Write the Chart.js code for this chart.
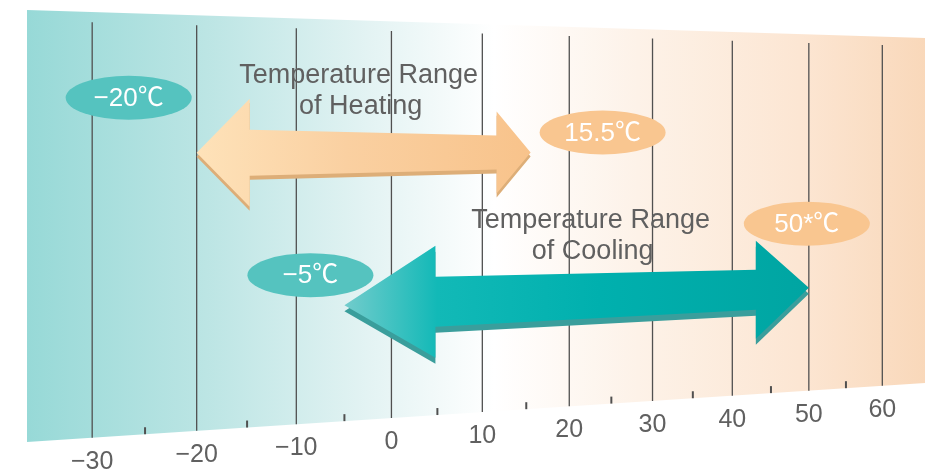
<!DOCTYPE html>
<html>
<head>
<meta charset="utf-8">
<title>Temperature ranges</title>
<script src="https://cdn.jsdelivr.net/npm/chart.js@4.4.1/dist/chart.umd.min.js"></script>
<style>
  html, body { margin: 0; padding: 0; background: #fff; }
  #rangeChart { display: block; }
</style>
</head>
<body>
<canvas id="rangeChart" width="925" height="473"></canvas>
<script>
// axis ticks (°C)
const majorTicks = [-30, -20, -10, 0, 10, 20, 30, 40, 50, 60];
const minorTicks = [-25, -15, -5, 5, 15, 25, 35, 45, 55];

// operating ranges
const rangeNames = ['Heating', 'Cooling'];
const rangeLow = [-20, -5];
const rangeHigh = [15.5, 50];
const highNote = ['', '*'];

// the board is a tilted plane: screen corners of the chart area
const PLANE = { tl: [27, 10], tr: [925, 38], br: [925, 383], bl: [27, 442] };

const FONT = '"Liberation Sans", Arial, "Noto Sans CJK SC", sans-serif';
const TEXT_GREY = '#606060';
const BADGE_LOW = '#55C3BF';
const BADGE_HIGH = '#F9C690';

const arrowStyles = [
  {
    stops: [[0, '#FEE2B9'], [0.45, '#FAD0A1'], [1, '#F8C38B']],
    shade: '#DDAE78', drop: 4,
    left: { len: 53, head: 54, shaft: 23 },
    right: { len: 34, head: 41, shaft: 17 },
    lowBadge: [-68, -55], highBadge: [72, -20],
    title: [-5, -70]
  },
  {
    stops: [[0, '#72CCCC'], [0.2, '#12B9B7'], [0.55, '#00B0AE'], [1, '#00A5A2']],
    shade: '#3A9E9C', drop: 6,
    left: { len: 91, head: 56, shaft: 25 },
    right: { len: 53, head: 49, shaft: 20 },
    lowBadge: [-34, -30], highBadge: [-2, -64],
    title: [14, -68]
  }
];

function fmtTemp(v, note) {
  return (v < 0 ? '\u2212' : '') + Math.abs(v) + (note || '') + '\u2103';
}

// projective map from the unit square onto the tilted board
function planeMap() {
  const [x0, y0] = PLANE.tl, [x1, y1] = PLANE.tr, [x2, y2] = PLANE.br, [x3, y3] = PLANE.bl;
  const dx1 = x1 - x2, dx2 = x3 - x2, dx3 = x0 - x1 + x2 - x3;
  const dy1 = y1 - y2, dy2 = y3 - y2, dy3 = y0 - y1 + y2 - y3;
  const den = dx1 * dy2 - dy1 * dx2;
  const g = (dx3 * dy2 - dy3 * dx2) / den;
  const h = (dx1 * dy3 - dy1 * dx3) / den;
  const a = x1 - x0 + g * x1, b = x3 - x0 + h * x3, c = x0;
  const d = y1 - y0 + g * y1, e = y3 - y0 + h * y3, f = y0;
  return (u, v) => {
    const w = g * u + h * v + 1;
    return [(a * u + b * v + c) / w, (d * u + e * v + f) / w];
  };
}
const toBoard = planeMap();

function project(chart, px, py) {
  const ca = chart.chartArea;
  return toBoard((px - ca.left) / (ca.right - ca.left), (py - ca.top) / (ca.bottom - ca.top));
}

function uOf(chart, value) {
  const ca = chart.chartArea;
  return (chart.scales.x.getPixelForValue(value) - ca.left) / (ca.right - ca.left);
}

// background, grid lines and the slanted axis
const perspectiveBoard = {
  id: 'perspectiveBoard',
  beforeDatasetsDraw(chart) {
    const ctx = chart.ctx;
    ctx.save();

    const corners = [toBoard(0, 0), toBoard(1, 0), toBoard(1, 1), toBoard(0, 1)];
    const bg = ctx.createLinearGradient(corners[0][0], 0, corners[1][0], 0);
    bg.addColorStop(0, '#97D9D7');
    bg.addColorStop(0.2, '#BCE5E4');
    bg.addColorStop(0.38, '#E3F3F3');
    bg.addColorStop(0.52, '#FFFFFF');
    bg.addColorStop(0.68, '#FDF2E8');
    bg.addColorStop(0.86, '#FCE6D3');
    bg.addColorStop(1, '#F9D8BA');
    ctx.beginPath();
    corners.forEach(([x, y], i) => (i ? ctx.lineTo(x, y) : ctx.moveTo(x, y)));
    ctx.closePath();
    ctx.fillStyle = bg;
    ctx.fill();

    // major grid lines
    ctx.strokeStyle = '#505050';
    ctx.lineWidth = 1.3;
    chart.scales.x.ticks.forEach(t => {
      const u = uOf(chart, t.value);
      const [xt, yt] = toBoard(u, 0.024);
      const [xb, yb] = toBoard(u, 1);
      ctx.beginPath();
      ctx.moveTo(xt, yt);
      ctx.lineTo(xb, yb);
      ctx.stroke();
    });

    // minor ticks on the lower edge
    ctx.lineWidth = 2;
    minorTicks.forEach(v => {
      const [xb, yb] = toBoard(uOf(chart, v), 1);
      ctx.beginPath();
      ctx.moveTo(xb, yb);
      ctx.lineTo(xb, yb - 7);
      ctx.stroke();
    });

    // tick labels follow the slanted edge
    ctx.fillStyle = TEXT_GREY;
    ctx.font = '25px ' + FONT;
    ctx.textAlign = 'center';
    ctx.textBaseline = 'middle';
    chart.scales.x.ticks.forEach(t => {
      const [xb, yb] = toBoard(uOf(chart, t.value), 1);
      const label = t.value < 0 ? '\u2212' + Math.abs(t.value) : String(t.value);
      ctx.fillText(label, xb, yb + 24);
    });
    ctx.restore();
  }
};

function drawArrow(ctx, L, R, s) {
  const [lx, ly] = L, [rx, ry] = R;
  const cy = x => ly + (ry - ly) * (x - lx) / (rx - lx);
  const xb1 = lx + s.left.len, xb2 = rx - s.right.len;
  const pts = [
    [lx, ly],
    [xb1, cy(xb1) - s.left.head],
    [xb1, cy(xb1) - s.left.shaft],
    [xb2, cy(xb2) - s.right.shaft],
    [xb2, cy(xb2) - s.right.head],
    [rx, ry],
    [xb2, cy(xb2) + s.right.head],
    [xb2, cy(xb2) + s.right.shaft],
    [xb1, cy(xb1) + s.left.shaft],
    [xb1, cy(xb1) + s.left.head]
  ];
  const trace = dy => {
    ctx.beginPath();
    pts.forEach(([x, y], i) => (i ? ctx.lineTo(x, y + dy) : ctx.moveTo(x, y + dy)));
    ctx.closePath();
  };
  // extruded edge underneath
  trace(s.drop);
  ctx.fillStyle = s.shade;
  ctx.fill();
  // top face
  const grad = ctx.createLinearGradient(lx, 0, rx, 0);
  s.stops.forEach(([o, c]) => grad.addColorStop(o, c));
  trace(0);
  ctx.fillStyle = grad;
  ctx.fill();
}

function drawBadge(ctx, x, y, color, text) {
  ctx.beginPath();
  ctx.ellipse(x, y, 63, 22, 0, 0, Math.PI * 2);
  ctx.fillStyle = color;
  ctx.fill();
  ctx.fillStyle = '#FFFFFF';
  ctx.font = '26px ' + FONT;
  ctx.textAlign = 'center';
  ctx.textBaseline = 'middle';
  ctx.fillText(text, x, y + 1);
}

// range arrows, end badges and captions
const rangeArrows = {
  id: 'rangeArrows',
  afterDatasetsDraw(chart) {
    const ctx = chart.ctx;
    ctx.save();
    chart.data.datasets.forEach((ds, i) => {
      const meta = chart.getDatasetMeta(i);
      const s = arrowStyles[i];
      const p0 = meta.data[0], p1 = meta.data[1];
      const L = project(chart, p0.x, p0.y);
      const R = project(chart, p1.x, p1.y);
      drawArrow(ctx, L, R, s);

      drawBadge(ctx, L[0] + s.lowBadge[0], L[1] + s.lowBadge[1], BADGE_LOW, fmtTemp(rangeLow[i]));
      drawBadge(ctx, R[0] + s.highBadge[0], R[1] + s.highBadge[1], BADGE_HIGH, fmtTemp(rangeHigh[i], highNote[i]));

      const mx = (L[0] + R[0]) / 2 + s.title[0];
      const my = (L[1] + R[1]) / 2 + s.title[1];
      ctx.fillStyle = TEXT_GREY;
      ctx.font = '27px ' + FONT;
      ctx.textAlign = 'center';
      ctx.textBaseline = 'alphabetic';
      ctx.fillText('Temperature Range', mx, my);
      ctx.fillText('of ' + ds.label, mx + 2, my + 31);
    });
    ctx.restore();
  }
};

new Chart(document.getElementById('rangeChart'), {
  type: 'scatter',
  data: {
    datasets: rangeNames.map((name, i) => ({
      label: name,
      data: [{ x: rangeLow[i], y: i }, { x: rangeHigh[i], y: i }],
      pointRadius: 0,
      showLine: false
    }))
  },
  options: {
    responsive: false,
    animation: false,
    devicePixelRatio: 1,
    layout: { padding: { left: 27, right: 0, top: 10, bottom: 31 } },
    scales: {
      x: {
        type: 'linear', min: -36, max: 66, display: false,
        afterBuildTicks: scale => { scale.ticks = majorTicks.map(v => ({ value: v })); }
      },
      y: { type: 'linear', min: -0.87, max: 1.76, reverse: true, display: false }
    },
    plugins: { legend: { display: false }, tooltip: { enabled: false } }
  },
  plugins: [perspectiveBoard, rangeArrows]
});
</script>
</body>
</html>
